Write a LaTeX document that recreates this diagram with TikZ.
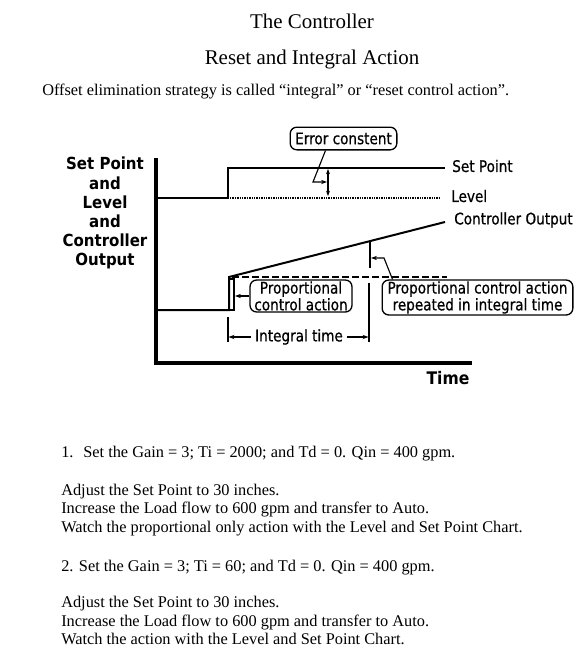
\documentclass[tikz,border=0pt]{standalone}
\usepackage{fontspec}
\setmainfont{Liberation Serif}
\newfontfamily\cad[FakeStretch=0.85,FakeBold=0.6]{DejaVu Sans}
\newfontfamily\cadb[FakeStretch=0.9]{DejaVu Sans Bold}
\usetikzlibrary{arrows.meta,calc}
\begin{document}
\begin{tikzpicture}[x=0.75pt,y=-0.75pt,
  axisline/.style={line width=2.4pt},
  curve/.style={line width=1.5pt},
  thin/.style={line width=0.85pt},
  tip/.style={-{Stealth[length=4.5pt,width=3.2pt]}},
  lbl/.style={font=\cad\fontsize{12}{12}\selectfont, inner sep=0pt},
  cbox/.style={draw, line width=1pt, rounded corners=5pt, inner sep=1pt, align=center,
     font=\cad\fontsize{12}{11}\selectfont},
  body/.style={anchor=base west, inner sep=0pt, font=\fontsize{12.25}{14}\selectfont},
  head/.style={anchor=base, inner sep=0pt, font=\fontsize{15.7}{18}\selectfont}]
\useasboundingbox (0,0) rectangle (586,657);
\fill[white] (0,0) rectangle (586,657);

% headings
\node[head] (t1) at (312,28) {The Controller};
\node[head] (t2) at (312,64) {Reset and Integral Action};
\node[body] (t3) at (42,95) {Offset elimination strategy is called “integral” or “reset control action”.};

% axes
\coordinate (ytop) at (156,158);
\coordinate (orig) at (156,363);
\coordinate (xend) at (472,363);
\draw[axisline] (ytop) -- (orig) -- (xend);

% set point
\draw[curve] (156,198) -- (228,198) -- (228,168) -- (445,168);
% level
\draw[line width=2pt, dash pattern=on 1pt off 0.8pt] (230,198) -- (440,198);
% controller output
\draw[curve] (156,310) -- (229,310) -- (229,277) -- (445,222);
% reference dashed
\draw[line width=1pt, dash pattern=on 5pt off 2.5pt] (232,277) -- (447,277);

% axis labels
\node[font=\cadb\fontsize{12.5}{14.3}\selectfont, align=center, inner sep=0pt] (ylab) at (105,213)
  {Set Point\\and\\Level\\and\\Controller\\Output};
\node[font=\cadb\fontsize{13}{14}\selectfont, inner sep=0pt] (time) at (448,378) {Time};
\node[lbl, anchor=west] (lsp) at (452,166) {Set Point};
\node[lbl, anchor=west] (llv) at (451,196) {Level};
\node[lbl, anchor=west] (lco) at (454,220) {Controller Output};

% error constant
\node[cbox, minimum width=80pt, minimum height=17pt] (err) at (343.5,138.5) {Error constent};
\draw[thin, {Stealth[length=4pt,width=3pt]}-{Stealth[length=4pt,width=3pt]}] (328,169) -- (328,196);
\draw[thin, tip] ($(err.south)+(-18,0)$) -- (313,182) -- (327,182);

% proportional control action
\node[cbox, minimum width=76.5pt, minimum height=24pt] (pca) at (301,296) {Proportional\\control action};
\draw[thin] (230,279) -- (234,279) -- (234,310) -- (230,310);
\draw[thin, tip] (pca.west) -- (235,296);

% integral time
\draw[thin] (228,317) -- (228,342);
\draw[thin] (369,283) -- (369,342);
\node[lbl, inner sep=3pt] (it) at (299,337) {Integral time};
\draw[thin, tip] (it.west) -- (228.5,337);
\draw[thin, tip] (it.east) -- (368.5,337);

% repeated action
\draw[thin] (370,241) -- (370,268);
\node[cbox, minimum width=143pt, minimum height=26pt] (rep) at (477.5,297.5) {Proportional control action\\repeated in integral time};
\draw[thin, tip] ($(rep.north west)+(11,0)$) -- (384,258) -- (371,258);

% instructions
\node[body] (a1) at (61,457) {1.\hspace{0.6em}Set the Gain = 3; Ti = 2000; and Td = 0. Qin = 400 gpm.};
\node[body] (a2) at (61,495) {Adjust the Set Point to 30 inches.};
\node[body] (a3) at (61,513) {Increase the Load flow to 600 gpm and transfer to Auto.};
\node[body] (a4) at (61,532) {Watch the proportional only action with the Level and Set Point Chart.};
\node[body] (b1) at (61,571) {2. Set the Gain = 3; Ti = 60; and Td = 0. Qin = 400 gpm.};
\node[body] (b2) at (61,607) {Adjust the Set Point to 30 inches.};
\node[body] (b3) at (61,626) {Increase the Load flow to 600 gpm and transfer to Auto.};
\node[body] (b4) at (61,644) {Watch the action with the Level and Set Point Chart.};
\end{tikzpicture}
\end{document}
